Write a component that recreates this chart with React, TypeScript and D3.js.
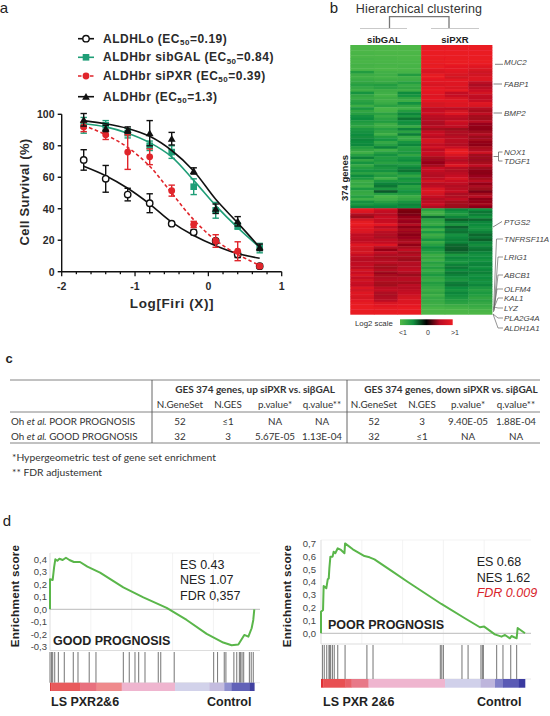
import React from "react";
import * as d3 from "d3";

const doses = [-1.7, -1.4, -1.1, -0.8, -0.5, -0.2, 0.1, 0.4, 0.7];
const loVals = [71, 59, 49, 43.5, 30.5, 25, 19.5, 11, 3.5];
const loErr = [6.5, 8.5, 4, 6, 1, 1.5, 1, 2, 1];
const loFit = [67, 61, 53, 43, 31.5, 23, 16.5, 11.5, 8.5];
const galVals = [93, 93, 88, 80, 76, 54, 39, 29, 15];
const galErr = [5, 3, 3, 3, 4, 5, 5, 2, 3];
const galFit = [94, 92, 88, 82, 73, 58, 42, 28, 15.5];
const pxrVals = [92, 87, 76, 73, 51.5, 30, 19.5, 13, 3.5];
const pxrErr = [3, 3, 11, 5, 3.5, 2, 4, 6, 1];
const pxrFit = [93, 87, 79, 67, 50, 33, 20, 11, 4];
const brVals = [96.5, 91, 90, 88, 84.5, 64, 40, 32, 15.5];
const brErr = [4, 2, 2, 8, 4, 2, 3, 3, 2];
const brFit = [96, 94, 91, 86, 77, 64, 46, 31, 15.5];

const heatTop = [
  [-98,-98,-98,99,99,99],[-98,-98,-98,99,99,99],[-97,-98,-98,99,99,98],[-96,-97,-97,98,99,99],
  [-97,-97,-98,99,98,98],[-95,-96,-97,97,98,98],[-96,-96,-96,98,99,99],[-94,-95,-96,96,98,97],
  [-95,-96,-95,98,95,92],[-96,-97,-96,92,95,88],[-78,-93,-94,88,92,82],[-90,-92,-78,96,88,84],
  [-92,-94,-92,98,84,90],[-88,-90,-90,94,95,90],[-84,-86,-80,92,92,72],[-80,-78,-88,88,92,62],
  [-86,-82,-84,94,88,72],[-90,-90,-90,96,96,80],[-72,-92,-66,94,76,85],[-84,-94,-72,90,78,76],
  [-88,-90,-84,94,86,74],[-82,-92,-90,94,94,80],[-78,-88,-70,86,90,92],[-90,-82,-84,88,92,88],
  [-74,-96,-92,74,72,68],[-84,-94,-78,78,84,60],[-80,-82,-62,82,92,74],[-70,-88,-74,72,76,58],
  [-66,-82,-48,68,70,56],[-76,-78,-70,66,82,70],[-80,-90,-70,62,78,50],[-84,-90,-88,72,74,46],
  [-74,-80,-60,56,52,44],[-70,-84,-82,76,64,54],[-66,-92,-56,80,64,68],[-68,-78,-88,72,70,52],
  [-62,-72,-86,86,72,58],[-66,-86,-72,84,70,48],[-64,-80,-62,76,66,44],[-78,-60,-80,84,80,60],
  [-84,-92,-78,72,96,66],[-92,-80,-74,80,99,82],[-80,-70,-84,76,88,56],[-58,-78,-72,58,76,54],
  [-84,-76,-66,54,66,52],[-72,-82,-80,48,78,60],[-86,-68,-74,58,92,76],[-78,-74,-60,78,68,52],
  [-72,-70,-48,76,66,44],[-82,-84,-72,70,72,42],[-66,-78,-84,66,78,50],[-76,-92,-70,74,86,56],
  [-90,-74,-76,84,80,72],[-86,-60,-62,70,74,48],[-92,-50,-82,74,66,62],[-76,-74,-78,88,72,54],
  [-86,-30,-70,90,78,34],[-88,-80,-78,84,62,58],[-80,-96,-90,78,66,70],[-92,-92,-84,68,76,44],
  [-70,-80,-72,72,58,48],[-74,-70,-60,80,56,58],[-60,-62,-66,64,52,42]
];
const heatBottom = [
  [96,82,36,-80,-62,-70],[90,76,30,-92,-72,-50],[64,70,34,-90,-78,-58],[52,80,48,-42,-62,-72],
  [86,78,54,-82,-34,-40],[96,80,50,-86,-58,-62],[98,94,68,-88,-74,-66],[92,72,44,-70,-36,-72],
  [92,84,58,-92,-54,-70],[88,70,52,-76,-48,-58],[74,66,42,-90,-70,-40],[76,62,50,-84,-64,-52],
  [72,74,56,-72,-58,-34],[80,76,66,-88,-62,-60],[92,90,46,-80,-40,-68],[86,68,60,-66,-34,-56],
  [82,48,76,-74,-30,-48],[86,76,58,-80,-48,-62],[78,64,68,-90,-76,-70],[72,60,58,-84,-62,-66],
  [68,66,52,-92,-70,-72],[74,72,70,-80,-74,-64],[76,60,66,-86,-58,-60],[72,56,70,-78,-52,-70],
  [84,68,76,-88,-66,-62],[80,52,64,-82,-50,-58],[86,58,52,-76,-58,-70],[76,64,68,-84,-70,-66],
  [82,68,70,-88,-74,-68],[80,60,58,-78,-56,-70],[76,56,72,-82,-50,-62],[90,72,68,-86,-66,-74],
  [84,76,74,-90,-72,-80],[92,64,78,-84,-62,-76],[90,62,82,-92,-68,-80],[86,66,86,-86,-74,-84],
  [94,72,90,-88,-78,-82],[96,88,92,-90,-82,-86],[98,94,96,-92,-90,-88],[99,96,98,-96,-94,-92],
  [98,97,99,-97,-97,-96],[98,98,99,-98,-98,-98]
];
const geneLabels = ["MUC2","FABP1","BMP2","NOX1","TDGF1","PTGS2","TNFRSF11A","LRIG1","ABCB1","OLFM4","KAL1","LYZ","PLA2G4A","ALDH1A1"];
const geneTextY = [61.7,84,113,151.7,161,222,239,257,275,289,297.7,308,318,328];

const tableCols = ["N.GeneSet","N.GES","p.value*","q.value**","N.GeneSet","N.GES","p.value*","q.value**"];
const tableRow1 = ["52","≤1","NA","NA","52","3","9.40E-05","1.88E-04"];
const tableRow2 = ["32","3","5.67E-05","1.13E-04","32","≤1","NA","NA"];

const goodCurve: [number, number][] = [[0,0],[0,.239],[.013,.233],[.02,.334],[.026,.398],[.036,.387],[.046,.403],[.062,.393],[.078,.411],[.095,.393],[.117,.377],[.147,.377],[.183,.34],[.245,.292],[.359,.175],[.457,.095],[.571,.011],[.669,-.085],[.767,-.196],[.848,-.265],[.889,-.286],[.922,-.281],[.951,-.204],[.971,-.218],[.987,-.151],[.995,-.085],[1,0]];
const goodHits = [0,.007,.013,.023,.041,.07,.114,.137,.192,.225,.359,.388,.416,.434,.465,.53,.542,.608,.801,.82,.853,.861,.9,.914,.927,.933,.94,.948,.976,.985,.995];
const goodTicks = [0.4,0.3,0.2,0.1,0,-0.1,-0.2,-0.3];
const poorCurve: [number, number][] = [[0,0],[0,.168],[.01,.181],[.013,.368],[.026,.35],[.033,.42],[.038,.427],[.041,.505],[.046,.596],[.057,.596],[.062,.635],[.07,.622],[.082,.661],[.098,.648],[.115,.622],[.118,.699],[.156,.653],[.213,.601],[.238,.591],[.262,.575],[.344,.487],[.426,.399],[.59,.228],[.705,.117],[.779,.047],[.8,.052],[.852,-.008],[.885,-.026],[.902,-.013],[.926,-.039],[.934,-.021],[.959,-.039],[.964,.041],[1,0]];
const poorHits = [.007,.016,.028,.039,.042,.047,.056,.065,.082,.118,.225,.255,.585,.592,.6,.691,.721,.784,.791,.796,.861,.892,.93,.959];
const poorTicks = [0.7,0.6,0.5,0.4,0.3,0.2,0.1,0];
const goodBarEnds = [0,.007,.147,.228,.351,.612,.78,.853,.889,.976,1];
const goodBarColors = ["#e03a3c","#e85a5c","#e8707e","#ef8a8c","#efb5cf","#d2d2ea","#c4bcdf","#8f8fcf","#6262b8","#4040a0"];
const poorBarEnds = [0,.011,.118,.15,.233,.608,.783,.853,.892,.97,1];
const poorBarColors = ["#e03034","#e85052","#e86068","#e87888","#efb5cf","#d0d0ea","#bdb5dc","#8080c8","#5a5ab5","#3a3aa0"];

const sans = "'Liberation Sans', Arial, sans-serif";
const lato = "Lato, sans-serif";

const heatColor = d3.scaleLinear<string>()
  .domain([-100, -70, -30, 0, 30, 70, 100])
  .range(["#52ba48", "#12913f", "#0a5a2a", "#000000", "#780010", "#b80c24", "#ec1c24"]);

function EC({ y, name, val }: { y: number; name: string; val: string }) {
  return (
    <text x={103} y={y} fontFamily={sans} fontWeight={700} fontSize={12} fill="#2a2a2a" letterSpacing={0.5}>
      {name} (EC<tspan fontSize={8} dy={2.5}>50</tspan><tspan dy={-2.5}>={val})</tspan>
    </text>
  );
}

function PanelA() {
  const x = d3.scaleLinear().domain([-2, 1]).range([61.7, 281.7]);
  const y = d3.scaleLinear().domain([0, 100]).range([271.7, 114.3]);
  const line = d3.line<number>().x((_, i) => x(doses[i])).y((d) => y(d)).curve(d3.curveCatmullRom);
  const minor = d3.range(-2, 1.01, 0.2);
  const series = [
    { v: loVals, e: loErr, f: loFit, c: "#111", dash: undefined, m: "o" },
    { v: galVals, e: galErr, f: galFit, c: "#1f9e77", dash: undefined, m: "s" },
    { v: pxrVals, e: pxrErr, f: pxrFit, c: "#e0252b", dash: "3.5 2.5", m: "c" },
    { v: brVals, e: brErr, f: brFit, c: "#111", dash: undefined, m: "t" },
  ];
  const marker = (m: string, c: string, cx: number, cy: number, k: number) => {
    if (m === "o") return <circle key={k} cx={cx} cy={cy} r={3.2} fill="#fff" stroke="#111" strokeWidth={1.4} />;
    if (m === "s") return <rect key={k} x={cx - 3.3} y={cy - 3.3} width={6.6} height={6.6} fill={c} />;
    if (m === "c") return <circle key={k} cx={cx} cy={cy} r={3.4} fill={c} />;
    return <path key={k} d={`M${cx},${cy - 3.8}L${cx + 3.9},${cy + 3}L${cx - 3.9},${cy + 3}Z`} fill={c} />;
  };
  const legY = [38.7, 57.3, 76, 96.7];
  return (
    <g>
      {series.map((s, i) => (
        <g key={i}>
          <path d={line(s.f) || ""} fill="none" stroke={s.c} strokeWidth={1.6} strokeDasharray={s.dash} />
          {s.v.map((d, j) => (
            <g key={j} stroke={s.c} strokeWidth={1.4}>
              <line x1={x(doses[j])} x2={x(doses[j])} y1={y(d - s.e[j])} y2={y(d + s.e[j])} />
              <line x1={x(doses[j]) - 3.2} x2={x(doses[j]) + 3.2} y1={y(d + s.e[j])} y2={y(d + s.e[j])} />
              <line x1={x(doses[j]) - 3.2} x2={x(doses[j]) + 3.2} y1={y(d - s.e[j])} y2={y(d - s.e[j])} />
            </g>
          ))}
          {s.v.map((d, j) => marker(s.m, s.c, x(doses[j]), y(d), j))}
          <line x1={78} x2={94} y1={legY[i]} y2={legY[i]} stroke={s.c} strokeWidth={1.6} strokeDasharray={s.dash} />
          {marker(s.m, s.c, 86, legY[i], 99)}
        </g>
      ))}
      <EC y={42.7} name="ALDHLo" val="0.19" />
      <EC y={61.2} name="ALDHbr sibGAL" val="0.84" />
      <EC y={79.7} name="ALDHbr siPXR" val="0.39" />
      <EC y={100.7} name="ALDHbr" val="1.3" />
      <path d={`M${x(-2)},${y(100)}V${y(0)}H${x(1)}`} fill="none" stroke="#111" strokeWidth={1.4} />
      {y.ticks(5).map((t) => (
        <g key={t}>
          <line x1={x(-2) - 4} x2={x(-2)} y1={y(t)} y2={y(t)} stroke="#111" strokeWidth={1.4} />
          <text x={54.5} y={y(t) + 4} textAnchor="end" fontFamily={sans} fontWeight={700} fontSize={10.5} fill="#2a2a2a">{t}</text>
        </g>
      ))}
      {minor.map((t) => (
        <line key={t} x1={x(t)} x2={x(t)} y1={y(0)} y2={y(0) + (Math.abs(t - Math.round(t)) < 0.01 ? 4.5 : 2.5)} stroke="#111" strokeWidth={1.3} />
      ))}
      {[-2, -1, 0, 1].map((t) => (
        <text key={t} x={x(t)} y={290} textAnchor="middle" fontFamily={sans} fontWeight={700} fontSize={10.5} fill="#2a2a2a">{t}</text>
      ))}
      <text transform="translate(29,192) rotate(-90)" textAnchor="middle" fontFamily={sans} fontWeight={700} fontSize={13} fill="#2a2a2a" letterSpacing={0.3}>Cell Survival (%)</text>
      <text x={172} y={307.5} textAnchor="middle" fontFamily={sans} fontWeight={700} fontSize={13.5} fill="#2a2a2a" letterSpacing={0.6}>Log[Firi (X)]</text>
    </g>
  );
}

function PanelB() {
  const x = d3.scaleBand<number>().domain(d3.range(6)).range([350.3, 492]);
  const yT = d3.scaleBand<number>().domain(d3.range(heatTop.length)).range([45, 208.3]);
  const yB = d3.scaleBand<number>().domain(d3.range(heatBottom.length)).range([208.3, 314.3]);
  const g = "#666";
  return (
    <g>
      <defs>
        <linearGradient id="lg2">
          <stop offset="0" stopColor={heatColor(-100)} />
          <stop offset="0.25" stopColor={heatColor(-70)} />
          <stop offset="0.5" stopColor="#000" />
          <stop offset="0.75" stopColor={heatColor(70)} />
          <stop offset="1" stopColor={heatColor(100)} />
        </linearGradient>
        <filter id="soft"><feGaussianBlur stdDeviation="0.35" /></filter>
      </defs>
      <text x={334} y={13} textAnchor="middle" fontFamily={sans} fontSize={15} fill="#222">b</text>
      <text x={419} y={13} textAnchor="middle" fontFamily={sans} fontSize={12.5} fill="#333" letterSpacing={0.15}>Hierarchical clustering</text>
      <path d="M389.5,28V16.7H449V28" fill="none" stroke="#777" strokeWidth={1.3} />
      <path d="M360,28.5H407M431,28.5H479" fill="none" stroke="#bbb" strokeWidth={0.8} />
      <text x={384} y={43} textAnchor="middle" fontFamily={sans} fontWeight={700} fontSize={9.5} fill="#222">sibGAL</text>
      <text x={455} y={43} textAnchor="middle" fontFamily={sans} fontWeight={700} fontSize={9.5} fill="#222">siPXR</text>
      <g filter="url(#soft)">
        {heatTop.map((r, i) => r.map((v, j) => (
          <rect key={`t${i}-${j}`} x={x(j)} y={yT(i)} width={x.bandwidth() + 0.4} height={yT.bandwidth() + 0.4} fill={heatColor(v)} />
        )))}
        {heatBottom.map((r, i) => r.map((v, j) => (
          <rect key={`b${i}-${j}`} x={x(j)} y={yB(i)} width={x.bandwidth() + 0.4} height={yB.bandwidth() + 0.4} fill={heatColor(v)} />
        )))}
      </g>
      <text transform="translate(347.5,178) rotate(-90)" textAnchor="middle" fontFamily={sans} fontWeight={700} fontSize={9.5} fill="#222">374 genes</text>
      {geneLabels.map((t, i) => (
        <text key={t} x={504} y={geneTextY[i] + 3} fontFamily={sans} fontStyle="italic" fontSize={8} fill="#444">{t}</text>
      ))}
      <path d="M495,64.3H503M493.5,84H502M493.5,113H502M493.5,156.5H498.5M498.5,152V161M498.5,152H502.5M498.5,161H502.5M493,227L502,221.5" fill="none" stroke={g} strokeWidth={0.8} />
      <path d="M493.5,312L496.5,239H503M494,311L498,257H503M494,310L498,275H503M494,309L497,289H503M494,308L498,298H503M494,307L498,308H503M493,314L498,318H503M493,314L498,328H503" fill="none" stroke={g} strokeWidth={0.7} />
      <text x={355} y={325.5} fontFamily={sans} fontSize={7.8} fill="#333">Log2 scale</text>
      <rect x={400} y={319.3} width={52.7} height={5.8} fill="url(#lg2)" />
      <text x={403} y={335} textAnchor="middle" fontFamily={sans} fontSize={7} fill="#333">&lt;1</text>
      <text x={428} y={335} textAnchor="middle" fontFamily={sans} fontSize={7} fill="#333">0</text>
      <text x={455} y={335} textAnchor="middle" fontFamily={sans} fontSize={7} fill="#333">&gt;1</text>
    </g>
  );
}

function PanelC() {
  const colX = [180, 228, 275, 322, 374, 422, 468, 516];
  const T = (p: any) => <text fontFamily={lato} fontSize={9.8} fill="#333" {...p} />;
  return (
    <g>
      <text x={9} y={363} textAnchor="middle" fontFamily={sans} fontWeight={700} fontSize={13} fill="#222">c</text>
      <path d="M10,380H540M10,412H540M10,443H540" stroke="#777" strokeWidth={0.9} fill="none" />
      <path d="M152,380V443M347,380V443" stroke="#555" strokeWidth={0.9} fill="none" />
      <T x={255} y={392.5} textAnchor="middle" fontWeight={700} fontSize={10}>GES 374 genes, up siPXR vs. siβGAL</T>
      <T x={451} y={392.5} textAnchor="middle" fontWeight={700} fontSize={10}>GES 374 genes, down siPXR vs. siβGAL</T>
      {tableCols.map((t, i) => <T key={i} x={colX[i]} y={408} textAnchor="middle">{t}</T>)}
      <T x={11} y={424.5}>Oh <tspan fontStyle="italic">et al.</tspan> POOR PROGNOSIS</T>
      <T x={11} y={439.5}>Oh <tspan fontStyle="italic">et al.</tspan> GOOD PROGNOSIS</T>
      {tableRow1.map((t, i) => <T key={i} x={colX[i]} y={424.5} textAnchor="middle">{t}</T>)}
      {tableRow2.map((t, i) => <T key={i} x={colX[i]} y={439.5} textAnchor="middle">{t}</T>)}
      <T x={12} y={460.5} fontSize={10.3}>*Hypergeometric test of gene set enrichment</T>
      <T x={12} y={476} fontSize={10.3}>** FDR adjustement</T>
    </g>
  );
}

type GP = {
  curve: [number, number][]; hits: number[]; ticks: number[]; ends: number[]; colors: string[];
  x0: number; x1: number; y0: number; perTenth: number; top: number; bottom: number; axisRight: number;
  hitTop: number; hitBottom: number; barBottom: number; labelX: number; tickRight: number;
};

function Gsea({ curve, hits, ticks, ends, colors, x0, x1, y0, perTenth, top, bottom, axisRight, hitTop, hitBottom, barBottom, tickRight, labelX }: GP) {
  const x = d3.scaleLinear().domain([0, 1]).range([x0, x1]);
  const y = d3.scaleLinear().domain([0, 0.1]).range([y0, y0 - perTenth]);
  const line = d3.line<[number, number]>().x((d) => x(d[0])).y((d) => y(d[1]));
  return (
    <g>
      {[0.2, 0.4, 0.6, 0.8].map((t) => (
        <line key={t} x1={x(t)} x2={x(t)} y1={top} y2={bottom} stroke="#f0f0f0" strokeWidth={0.8} />
      ))}
      <line x1={x0} x2={axisRight} y1={top} y2={top} stroke="#f0f0f0" strokeWidth={0.8} />
      <line x1={x0} x2={x0} y1={top} y2={bottom} stroke="#ddd" strokeWidth={1} />
      <line x1={x0} x2={axisRight} y1={y0} y2={y0} stroke="#c8c8c8" strokeWidth={1.2} />
      <line x1={x0} x2={axisRight} y1={bottom} y2={bottom} stroke="#ddd" strokeWidth={1} />
      <line x1={x0} x2={axisRight} y1={hitBottom} y2={hitBottom} stroke="#e2e2e2" strokeWidth={0.8} />
      {ticks.map((t) => (
        <text key={t} x={tickRight} y={y(t) + 3.5} textAnchor="end" fontFamily={sans} fontSize={9.5} fill="#444">
          {t.toFixed(1).replace(".", ",")}
        </text>
      ))}
      <path d={line(curve) || ""} fill="none" stroke="#5ab64a" strokeWidth={2} strokeLinejoin="round" />
      {hits.map((h, i) => (
        <line key={i} x1={x(h)} x2={x(h)} y1={hitTop} y2={hitBottom} stroke="#808080" strokeWidth={1.1} />
      ))}
      {colors.map((c, i) => (
        <rect key={i} x={x(ends[i])} y={hitBottom} width={x(ends[i + 1]) - x(ends[i]) + 0.3} height={barBottom - hitBottom} fill={c} />
      ))}
      <text transform={`translate(${labelX},596) rotate(-90)`} textAnchor="middle" fontFamily={sans} fontWeight={700} fontSize={11.7} fill="#222" letterSpacing={0.25}>Enrichment score</text>
    </g>
  );
}

function PanelD() {
  const big = { fontFamily: sans, fontSize: 12.5, fill: "#222" };
  const bold = { fontFamily: sans, fontSize: 12.5, fontWeight: 700, fill: "#222" };
  return (
    <g>
      <text x={7} y={526} textAnchor="middle" fontFamily={sans} fontSize={15} fill="#222">d</text>
      <Gsea curve={goodCurve} hits={goodHits} ticks={goodTicks} ends={goodBarEnds} colors={goodBarColors}
        x0={50} x1={254.3} y0={609.3} perTenth={12.55} top={553} bottom={650.5} axisRight={260}
        hitTop={652} hitBottom={682.7} barBottom={691} tickRight={47} labelX={19} />
      <text x={180} y={569} {...big}>ES 0.43</text>
      <text x={180} y={584} {...big}>NES 1.07</text>
      <text x={180} y={600} {...big}>FDR 0,357</text>
      <text x={53} y={644.5} {...bold}>GOOD PROGNOSIS</text>
      <text x={51} y={705.5} {...bold}>LS PXR2&amp;6</text>
      <text x={207} y={705.5} {...bold}>Control</text>
      <Gsea curve={poorCurve} hits={poorHits} ticks={poorTicks} ends={poorBarEnds} colors={poorBarColors}
        x0={321} x1={525} y0={633.3} perTenth={12.86} top={540} bottom={644} axisRight={531}
        hitTop={645} hitBottom={679} barBottom={687.7} tickRight={316} labelX={291} />
      <text x={476.7} y={566} {...big}>ES 0.68</text>
      <text x={476.7} y={581.5} {...big}>NES 1.62</text>
      <text x={476.7} y={596.5} {...big} fill="#d8232a" fontStyle="italic">FDR 0.009</text>
      <text x={328} y={628.5} {...bold}>POOR PROGNOSIS</text>
      <text x={323} y={705.5} {...bold}>LS PXR 2&amp;6</text>
      <text x={477} y={705.5} {...bold}>Control</text>
    </g>
  );
}

export default function App() {
  return (
    <svg width={550} height={716} viewBox="0 0 550 716" style={{ position: "absolute", left: 0, top: 0, background: "#fff" }}>
      <text x={4} y={13} textAnchor="middle" fontFamily={sans} fontSize={15} fill="#222">a</text>
      <PanelA />
      <PanelB />
      <PanelC />
      <PanelD />
    </svg>
  );
}
